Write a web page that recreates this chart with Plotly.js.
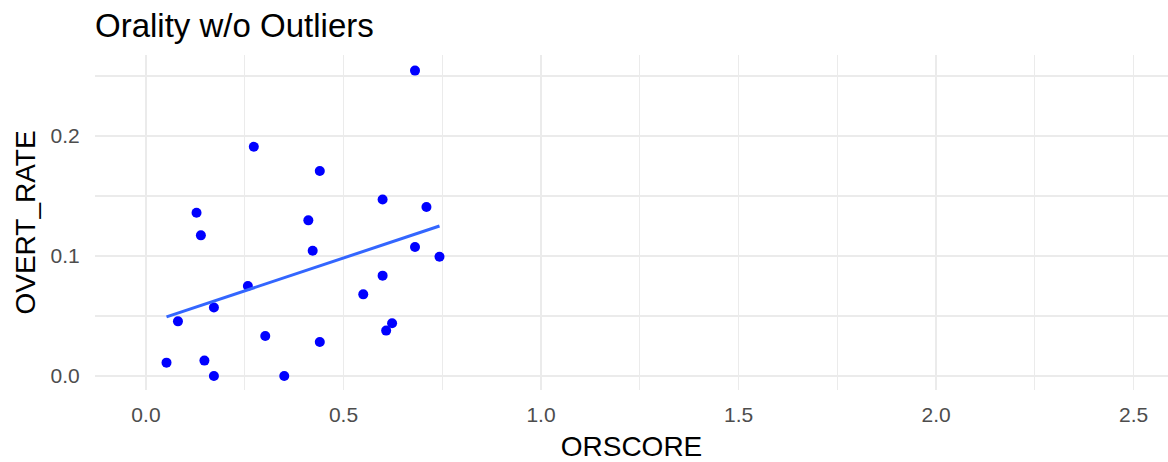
<!DOCTYPE html>
<html>
<head>
<meta charset="utf-8">
<script src="https://cdn.plot.ly/plotly-3.0.1.min.js"></script>
<style>html,body{margin:0;padding:0;background:#fff;}#chart{width:1168px;height:462px;}</style>
</head>
<body>
<div id="chart"></div>
<script>
// Data (ORSCORE vs OVERT_RATE)
const orscore = [0.681, 0.273, 0.440, 0.599, 0.710, 0.128, 0.411, 0.139, 0.422, 0.681, 0.743, 0.599, 0.550, 0.258, 0.172, 0.081, 0.623, 0.608, 0.302, 0.440, 0.052, 0.148, 0.172, 0.350];
const overtRate = [0.2545, 0.191, 0.1708, 0.147, 0.1408, 0.136, 0.1297, 0.1172, 0.1044, 0.1075, 0.0994, 0.0836, 0.068, 0.075, 0.057, 0.0455, 0.044, 0.0378, 0.0333, 0.0283, 0.0111, 0.0128, 0.0, 0.0];
const titleText = "Orality w/o Outliers";
const xLabel = "ORSCORE";
const yLabel = "OVERT_RATE";

// Linear fit (geom_smooth method = "lm")
const n = orscore.length;
const mx = orscore.reduce((a,b)=>a+b,0)/n;
const my = overtRate.reduce((a,b)=>a+b,0)/n;
let sxy = 0, sxx = 0;
for (let i=0;i<n;i++){ sxy += (orscore[i]-mx)*(overtRate[i]-my); sxx += (orscore[i]-mx)**2; }
const slope = sxy/sxx, icpt = my - slope*mx;
const xMin = Math.min(...orscore), xMax = Math.max(...orscore);
const fitX = [], fitY = [];
for (let k=0;k<=80;k++){ const x = xMin + (xMax-xMin)*k/80; fitX.push(x); fitY.push(icpt + slope*x); }

const font = "Liberation Sans, Arial, sans-serif";
const traces = [
  {x: orscore, y: overtRate, type: 'scatter', mode: 'markers',
   marker: {color: '#0000FF', size: 10}, hoverinfo: 'x+y'},
  {x: fitX, y: fitY, type: 'scatter', mode: 'lines',
   line: {color: '#3366FF', width: 3}, hoverinfo: 'skip'}
];
const layout = {
  width: 1168, height: 462,
  margin: {l: 95, r: 0, t: 55, b: 72},
  paper_bgcolor: '#fff', plot_bgcolor: '#fff',
  showlegend: false,
  font: {family: font, color: '#000'},
  title: {text: titleText, font: {family: font, size: 33, color: '#000'},
          x: 0, xref: 'paper', xanchor: 'left', y: 1 - 25/462, yref: 'container', yanchor: 'middle'},
  xaxis: {
    range: [-0.129, 2.587], dtick: 0.5, tick0: 0, tickformat: '.1f',
    showgrid: true, gridcolor: '#EBEBEB', gridwidth: 1.2,
    minor: {dtick: 0.25, tick0: 0, showgrid: true, gridcolor: '#EBEBEB', gridwidth: 1.2},
    zeroline: false, showline: false,
    ticks: 'outside', ticklen: 6, tickcolor: 'rgba(0,0,0,0)',
    tickfont: {family: font, size: 21, color: '#4D4D4D'},
    title: {text: xLabel, font: {family: font, size: 28, color: '#000'}, standoff: 11}
  },
  yaxis: {
    range: [-0.0117, 0.2675], dtick: 0.1, tick0: 0, tickformat: '.1f',
    showgrid: true, gridcolor: '#EBEBEB', gridwidth: 1.2,
    minor: {dtick: 0.05, tick0: 0, showgrid: true, gridcolor: '#EBEBEB', gridwidth: 1.2},
    zeroline: false, showline: false,
    ticks: 'outside', ticklen: 10, tickcolor: 'rgba(0,0,0,0)',
    tickfont: {family: font, size: 21, color: '#4D4D4D'},
    title: {text: yLabel, font: {family: font, size: 28, color: '#000'}, standoff: 6}
  }
};
Plotly.newPlot('chart', traces, layout, {displayModeBar: false, staticPlot: true});
</script>
</body>
</html>
